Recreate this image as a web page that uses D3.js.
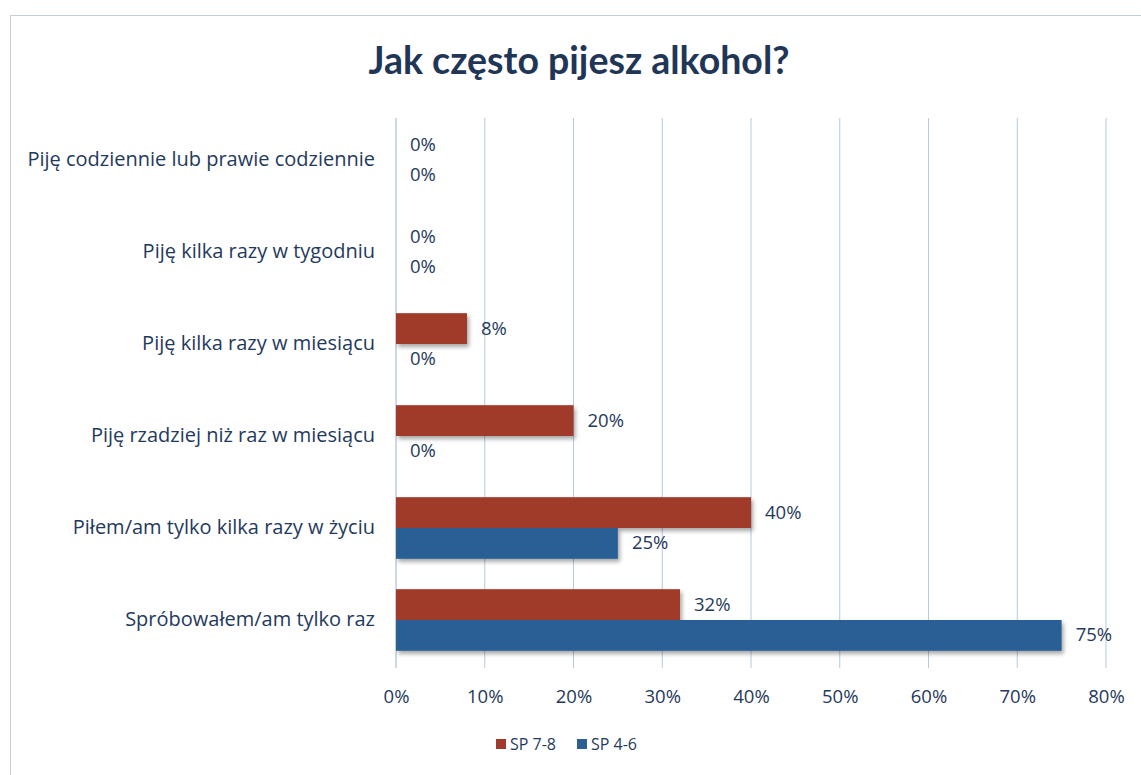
<!DOCTYPE html>
<html><head><meta charset="utf-8">
<script src="https://cdn.jsdelivr.net/npm/d3@7"></script>
<style>body{margin:0;background:#fff}svg{display:block}</style>
</head><body><svg id="c" width="1141" height="775"></svg>
<script>
const categories = ["Piję codziennie lub prawie codziennie","Piję kilka razy w tygodniu","Piję kilka razy w miesiącu","Piję rzadziej niż raz w miesiącu","Piłem/am tylko kilka razy w życiu","Spróbowałem/am tylko raz"];
const seriesNames = ["SP 7-8","SP 4-6"];
const sp78 = [0,0,8,20,40,32];
const sp46 = [0,0,0,0,25,75];
const xTicks = [0,10,20,30,40,50,60,70,80];
const colors = ["#a03a2c","#2b5f96"];

const svg = d3.select("#c");
const font = "'Open Sans', sans-serif";
const textCol = "#1f3a5c";

const defs = svg.append("defs");
const f = defs.append("filter").attr("id","sh").attr("x","-5%").attr("y","-20%").attr("width","115%").attr("height","160%");
f.append("feDropShadow").attr("dx",2).attr("dy",3).attr("stdDeviation",2).attr("flood-color","#000").attr("flood-opacity",0.35);

svg.append("rect").attr("x",10.5).attr("y",15.5).attr("width",1140).attr("height",770).attr("fill","#fff").attr("stroke","#c5ced8");

svg.append("text").attr("x",579).attr("y",74).attr("text-anchor","middle")
  .attr("font-family","Lato, sans-serif").attr("font-weight","bold").attr("font-size",37.5)
  .attr("fill","#1f3656").text("Jak często pijesz alkohol?");

const x = d3.scaleLinear().domain([0,80]).range([396,1106]);
const y = d3.scaleBand().domain(categories).range([114,666]).paddingInner(0.33).paddingOuter(0.165);
const sub = d3.scaleBand().domain(seriesNames).range([0,y.bandwidth()]);

const grid = svg.append("g");
grid.selectAll("line").data(xTicks.slice(1)).join("line")
  .attr("x1",d=>x(d)).attr("x2",d=>x(d)).attr("y1",118).attr("y2",668)
  .attr("stroke","#b7c9dc").attr("stroke-width",1);
svg.append("line").attr("x1",x(0)).attr("x2",x(0)).attr("y1",118).attr("y2",668).attr("stroke","#9fb3c8");

const xAxis = svg.append("g").attr("transform","translate(0,668)")
  .call(d3.axisBottom(x).tickValues(xTicks).tickFormat(d=>d+"%").tickSize(0).tickPadding(22));
xAxis.select(".domain").remove();
xAxis.selectAll("text").attr("font-family",font).attr("font-size",18.5).attr("fill",textCol);

const yAxis = svg.append("g").attr("transform","translate(396,0)")
  .call(d3.axisLeft(y).tickSize(0).tickPadding(21));
yAxis.select(".domain").remove();
yAxis.selectAll("text").attr("font-family",font).attr("font-size",20).attr("fill",textCol);

const data = [sp78, sp46];
data.forEach((vals,si)=>{
  const g = svg.append("g");
  g.selectAll("rect").data(vals).join("rect")
    .attr("x",x(0)).attr("y",(d,i)=>y(categories[i])+sub(seriesNames[si]))
    .attr("width",d=>x(d)-x(0)).attr("height",sub.bandwidth())
    .attr("fill",colors[si]).attr("filter","url(#sh)");
  g.selectAll("text").data(vals).join("text")
    .attr("x",d=>x(d)+14).attr("y",(d,i)=>y(categories[i])+sub(seriesNames[si])+sub.bandwidth()/2+6)
    .attr("font-family",font).attr("font-size",18.5).attr("fill",textCol).text(d=>d+"%");
});

const leg = svg.append("g").attr("transform","translate(496,745)");
seriesNames.forEach((s,i)=>{
  const lg = leg.append("g").attr("transform",`translate(${i*81},0)`);
  lg.append("rect").attr("x",0).attr("y",-6).attr("width",10).attr("height",10).attr("fill",colors[i]);
  lg.append("text").attr("x",14).attr("y",5).attr("font-family",font).attr("font-size",16).attr("fill",textCol).text(s);
});
</script></body></html>
